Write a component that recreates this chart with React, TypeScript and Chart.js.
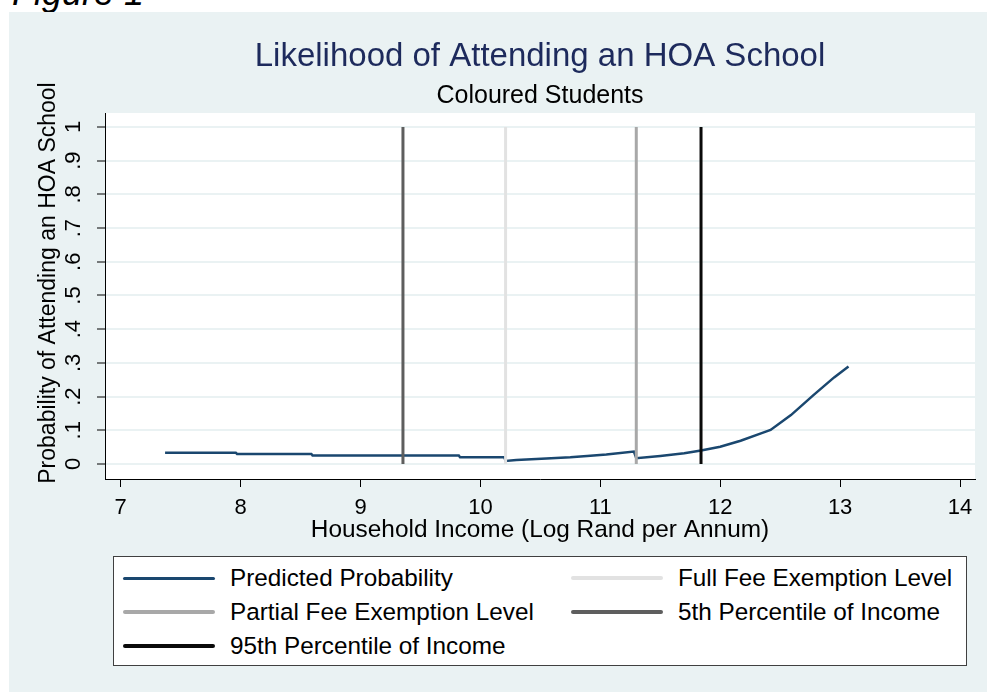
import React, { useEffect, useRef } from 'react';
import { Chart, registerables } from 'chart.js';

Chart.register(...registerables);

const FONT = '"Liberation Sans", Arial, Helvetica, sans-serif';

// ---- data ----
const incomeX = [7.37, 7.96, 7.97, 8.59, 8.6, 9.82, 9.83, 10.2, 10.21, 10.3, 10.55, 10.75, 10.89, 11.05, 11.28, 11.3, 11.5, 11.7, 11.84, 12.0, 12.17, 12.34, 12.42, 12.59, 12.78, 12.95, 13.07];
const probY = [0.0335, 0.0335, 0.03, 0.03, 0.025, 0.025, 0.02, 0.02, 0.009, 0.012, 0.016, 0.02, 0.024, 0.028, 0.037, 0.017, 0.024, 0.032, 0.04, 0.051, 0.069, 0.091, 0.101, 0.145, 0.205, 0.257, 0.289];

const curveLabel = 'Predicted Probability';
const curveColor = '#1a476f';

const refLineLabels = ['Full Fee Exemption Level', 'Partial Fee Exemption Level', '5th Percentile of Income', '95th Percentile of Income'];
const refLineX = [10.21, 11.3, 9.354, 11.84];
const refLineColors = ['#e2e2e2', '#a8a8a8', '#5e5e5e', '#0a0a0a'];

const xTickValues = [7, 8, 9, 10, 11, 12, 13, 14];
const xTickLabels = ['7', '8', '9', '10', '11', '12', '13', '14'];
const yTickValues = [0, 0.1, 0.2, 0.3, 0.4, 0.5, 0.6, 0.7, 0.8, 0.9, 1];
const yTickLabels = ['0', '.1', '.2', '.3', '.4', '.5', '.6', '.7', '.8', '.9', '1'];

const chartTitle = 'Likelihood of Attending an HOA School';
const chartSubtitle = 'Coloured Students';
const xAxisTitle = 'Household Income (Log Rand per Annum)';
const yAxisTitle = 'Probability of Attending an HOA School';
const figureLabel = 'Figure 1';

const legendLabels = [curveLabel, refLineLabels[0], refLineLabels[1], refLineLabels[2], refLineLabels[3]];
const legendColors = [curveColor, refLineColors[0], refLineColors[1], refLineColors[2], refLineColors[3]];
const legendWidths = [3, 4, 4, 4, 4];

const plotBgPlugin = {
  id: 'plotBg',
  beforeDraw(chart: any) {
    const { ctx, chartArea } = chart;
    ctx.save();
    ctx.fillStyle = '#ffffff';
    ctx.fillRect(chartArea.left, chartArea.top, chartArea.right - chartArea.left, chartArea.bottom - chartArea.top);
    ctx.restore();
  },
};

const yTitlePlugin = {
  id: 'yTitleCustom',
  afterDraw(chart: any) {
    const { ctx, chartArea } = chart;
    const ys = chart.scales.y;
    ctx.save();
    ctx.translate(ys.left + 49, (chartArea.top + chartArea.bottom) / 2 - 13);
    ctx.rotate(-Math.PI / 2);
    ctx.font = `23px ${FONT}`;
    ctx.fillStyle = '#000';
    ctx.textAlign = 'center';
    ctx.textBaseline = 'middle';
    ctx.fillText(yAxisTitle, 0, 0);
    ctx.restore();
  },
};

export default function App() {
  const canvasRef = useRef<HTMLCanvasElement | null>(null);

  useEffect(() => {
    document.body.style.margin = '0';
    const canvas = canvasRef.current;
    if (!canvas) return;

    const refSets = refLineX.map((v, i) => ({
      label: refLineLabels[i],
      data: [
        { x: v, y: 0 },
        { x: v, y: 1 },
      ],
      borderColor: refLineColors[i],
      backgroundColor: refLineColors[i],
      borderWidth: 3,
      showLine: true,
      pointRadius: 0,
      fill: false,
    }));

    const curveSet = {
      label: curveLabel,
      data: incomeX.map((x, i) => ({ x, y: probY[i] })),
      borderColor: curveColor,
      backgroundColor: curveColor,
      borderWidth: 2.5,
      showLine: true,
      pointRadius: 0,
      fill: false,
      tension: 0,
    };

    const chart = new Chart(canvas, {
      type: 'scatter',
      data: { datasets: [...refSets, curveSet] as any },
      plugins: [plotBgPlugin, yTitlePlugin],
      options: {
        animation: false,
        responsive: false,
        devicePixelRatio: 1,
        layout: { padding: { left: 0, right: 12, top: 0, bottom: 143 } },
        font: { family: FONT },
        plugins: {
          legend: { display: false },
          tooltip: { enabled: false },
          title: {
            display: true,
            text: chartTitle,
            fullSize: false,
            color: '#1d2a5c',
            font: { family: FONT, size: 33, weight: 'normal' as any, lineHeight: 1.2 },
            padding: { top: 37, bottom: 0 },
          },
          subtitle: {
            display: true,
            text: chartSubtitle,
            fullSize: false,
            color: '#000',
            font: { family: FONT, size: 25, weight: 'normal' as any, lineHeight: 1.2 },
            padding: { top: 4.2, bottom: 2.2 },
          },
        },
        scales: {
          x: {
            type: 'linear',
            position: 'bottom',
            min: 6.869,
            max: 14.125,
            afterBuildTicks(scale: any) {
              scale.ticks = xTickValues.map((v) => ({ value: v }));
            },
            afterFit(scale: any) {
              scale.height = 70;
            },
            ticks: {
              color: '#000',
              font: { family: FONT, size: 22 },
              padding: 7.8,
              maxRotation: 0,
              minRotation: 0,
              callback: (value: any) => {
                const i = xTickValues.indexOf(Number(value));
                return i >= 0 ? xTickLabels[i] : '';
              },
            },
            grid: {
              drawOnChartArea: false,
              drawTicks: true,
              tickLength: 8,
              tickColor: '#000',
              tickWidth: 1,
            },
            border: { display: true, color: '#000', width: 1 },
            title: {
              display: true,
              text: xAxisTitle,
              color: '#000',
              font: { family: FONT, size: 24.4 },
              padding: { top: 0, bottom: 4.4 },
            },
          },
          y: {
            type: 'linear',
            position: 'left',
            min: -0.0445,
            max: 1.0415,
            afterBuildTicks(scale: any) {
              scale.ticks = yTickValues.map((v) => ({ value: v }));
            },
            afterFit(scale: any) {
              scale.width = 105;
            },
            ticks: {
              color: '#000',
              font: { family: FONT, size: 22 },
              padding: 14.3,
              minRotation: 90,
              maxRotation: 90,
              crossAlign: 'center',
              callback: (value: any) => {
                const i = yTickValues.findIndex((t) => Math.abs(t - Number(value)) < 1e-9);
                return i >= 0 ? yTickLabels[i] : '';
              },
            },
            grid: {
              color: '#eaf2f3',
              lineWidth: 2,
              drawTicks: true,
              tickLength: 8,
              tickColor: '#000',
              tickWidth: 1,
            },
            border: { display: true, color: '#000', width: 1 },
            title: { display: false },
          },
        },
      } as any,
    });

    return () => {
      chart.destroy();
    };
  }, []);

  const rowCenters = [578, 611.5, 645.5];
  const colLeft = [123, 571];

  return (
    <div style={{ position: 'relative', width: 987, height: 692, background: '#fff', overflow: 'hidden', fontFamily: FONT }}>
      <div
        style={{
          position: 'absolute',
          left: 12,
          top: -25.5,
          fontSize: 36,
          lineHeight: '36px',
          fontStyle: 'italic',
          color: '#000',
          whiteSpace: 'nowrap',
        }}
      >
        {figureLabel}
      </div>
      <div style={{ position: 'absolute', left: 9, top: 12, width: 978, height: 680, background: '#eaf2f3' }} />
      <canvas ref={canvasRef} width={987} height={692} style={{ position: 'absolute', left: 0, top: 0, display: 'block' }} />
      <div
        style={{
          position: 'absolute',
          left: 113,
          top: 556,
          width: 854,
          height: 110,
          boxSizing: 'border-box',
          border: '1px solid #404040',
          background: '#fff',
        }}
      />
      {legendLabels.map((lab, i) => {
        const row = Math.floor(i / 2);
        const col = i % 2;
        const cy = rowCenters[row];
        const x0 = colLeft[col];
        return (
          <React.Fragment key={lab}>
            <div
              style={{
                position: 'absolute',
                left: x0,
                top: cy - legendWidths[i] / 2,
                width: 92,
                height: legendWidths[i],
                background: legendColors[i],
                borderRadius: 2,
              }}
            />
            <div
              style={{
                position: 'absolute',
                left: x0 + 107,
                top: cy - 11.7,
                fontSize: 24.3,
                lineHeight: '24px',
                color: '#000',
                whiteSpace: 'nowrap',
              }}
            >
              {lab}
            </div>
          </React.Fragment>
        );
      })}
    </div>
  );
}
